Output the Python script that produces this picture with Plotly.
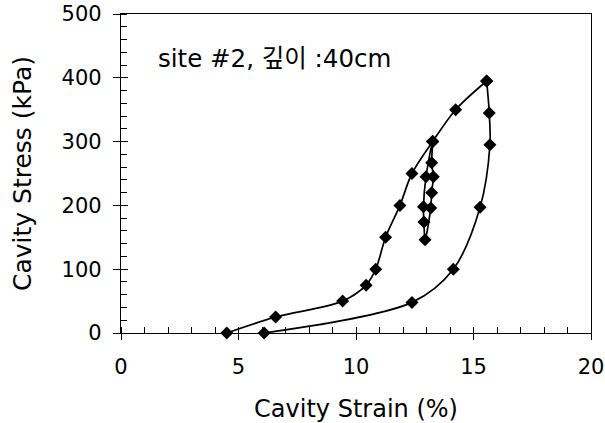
import plotly.graph_objects as go

# ---- data ----
# loading envelope (first loading, skipping the unload-reload loop)
load_strain = [4.50, 6.58, 9.43, 10.43, 10.84, 11.26, 11.87, 12.38, 13.26, 14.24, 15.56]
load_stress = [0, 25, 50, 75, 100, 150, 200, 250, 300, 350, 395]

# unload-reload loop at 300 kPa
loop_strain = [13.26, 12.98, 12.87, 12.89, 12.94, 13.18, 13.22, 13.29, 13.22, 13.26]
loop_stress = [300, 245, 198, 174, 146, 196, 220, 245, 267, 300]

# final unloading
unload_strain = [15.56, 15.67, 15.70, 15.28, 14.14, 12.38, 6.09]
unload_stress = [395, 345, 295, 197, 100, 48, 0]

x_ticks = [0, 5, 10, 15, 20]
y_ticks = [0, 100, 200, 300, 400, 500]
note_text = "site #2, 깊이 :40cm"
x_title = "Cavity Strain (%)"
y_title = "Cavity Stress (kPa)"

FONT = "DejaVu Sans, Noto Sans CJK KR, sans-serif"

fig = go.Figure()
line_style = dict(color="black", width=1.7, shape="spline", smoothing=0.9)
marker_style = dict(symbol="diamond", size=10, color="black")

for xs, ys in [(load_strain, load_stress), (loop_strain, loop_stress), (unload_strain, unload_stress)]:
    fig.add_trace(go.Scatter(x=xs, y=ys, mode="lines+markers", line=line_style,
                             marker=marker_style, showlegend=False, cliponaxis=False))

# empty trace on overlay axes (for crossing major ticks)
fig.add_trace(go.Scatter(x=[], y=[], xaxis="x2", yaxis="y2", showlegend=False))

axis_common = dict(showgrid=False, zeroline=False, linecolor="black", linewidth=1.2,
                   tickcolor="black", tickwidth=1.2, automargin=False)

fig.update_layout(
    width=605, height=423,
    margin=dict(l=121, r=14, t=14, b=90),
    paper_bgcolor="white", plot_bgcolor="white",
    font=dict(family=FONT, color="black"),
    xaxis=dict(range=[0, 20], tickvals=x_ticks, ticks="outside", ticklen=6,
               showline=True, mirror=True, ticklabelstandoff=9,
               minor=dict(dtick=1, ticks="inside", ticklen=6, tickcolor="black", tickwidth=1),
               tickfont=dict(size=21), title=dict(text=x_title, font=dict(size=24), standoff=23),
               **axis_common),
    yaxis=dict(range=[0, 500], tickvals=y_ticks, ticks="outside", ticklen=7,
               showline=True, mirror=True, ticklabelstandoff=7,
               minor=dict(dtick=20, ticks="inside", ticklen=6, tickcolor="black", tickwidth=1),
               tickfont=dict(size=21), title=dict(text=y_title, font=dict(size=25), standoff=22),
               **axis_common),
    xaxis2=dict(range=[0, 20], tickvals=x_ticks, ticks="inside", ticklen=6, overlaying="x",
                anchor="y2", side="bottom", showticklabels=False, showline=False,
                showgrid=False, zeroline=False, tickcolor="black", tickwidth=1.2),
    yaxis2=dict(range=[0, 500], tickvals=y_ticks, ticks="inside", ticklen=7, overlaying="y",
                anchor="x2", side="left", showticklabels=False, showline=False,
                showgrid=False, zeroline=False, tickcolor="black", tickwidth=1.2),
    annotations=[dict(x=1.5, y=431, xref="x", yref="y", text=note_text, showarrow=False,
                      xanchor="left", yanchor="middle", font=dict(size=24.5, family=FONT))],
)

fig.write_html("out.html")
